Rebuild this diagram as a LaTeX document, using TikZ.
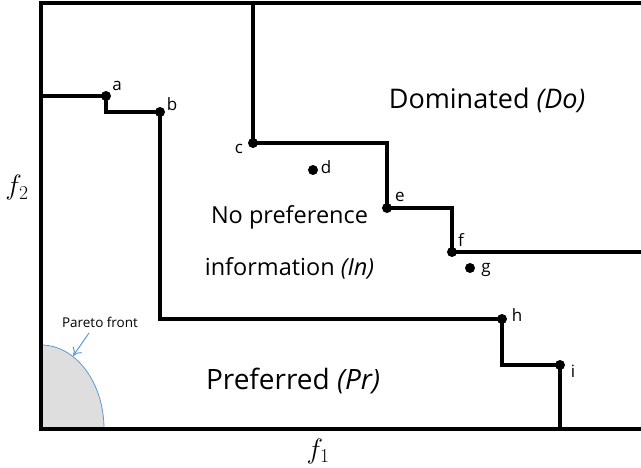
\RequirePackage{fix-cm}
\documentclass[tikz,border=0pt]{standalone}
\usepackage{fontspec}
\setmainfont{Open Sans}
\usetikzlibrary{arrows.meta}
\definecolor{frontblue}{HTML}{5B9BD5}
\definecolor{frontfill}{HTML}{DEDEDF}
\tikzset{
  stair/.style={line width=3.4pt, line join=miter, line cap=rect},
  pt/.style={circle, fill=black, inner sep=0pt, minimum size=10pt},
  ptlabel/.style={font=\fontsize{17}{19}\selectfont, inner sep=0pt},
  region/.style={font=\fontsize{27}{30}\selectfont, inner sep=0pt},
  midregion/.style={font=\fontsize{23.5}{26}\selectfont, inner sep=0pt},
  axislabel/.style={font=\fontsize{28}{30}\selectfont, inner sep=0pt},
}
\begin{document}
\begin{tikzpicture}[x=1pt, y=-1pt]
\useasboundingbox (0,0) rectangle (641,468);

% Pareto front: shaded quarter ellipse at the origin
\fill[frontfill] (41,429) -- (41,345) arc[start angle=-90, end angle=0, x radius=63, y radius=84] -- cycle;
\draw[frontblue, line width=0.8pt] (41,345) arc[start angle=-90, end angle=0, x radius=63, y radius=84];

% frame corners
\coordinate (TL) at (41,3);
\coordinate (TR) at (641,3);
\coordinate (BL) at (41,429);
\coordinate (BR) at (641,429);
\draw[stair] (TR) -- (TL) -- (BL) -- (BR);

% points
\node[pt] (a) at (106,96) {};
\node[pt] (b) at (160,112) {};
\node[pt] (c) at (253,143) {};
\node[pt] (d) at (313,170) {};
\node[pt] (e) at (387,208) {};
\node[pt] (f) at (452,252) {};
\node[pt] (g) at (470,268) {};
\node[pt] (h) at (502,319) {};
\node[pt] (i) at (560,365) {};

% stair corners and free ends
\coordinate (aL) at (41,96);
\coordinate (ab) at (106,112);
\coordinate (bh) at (160,319);
\coordinate (hi) at (502,365);
\coordinate (iB) at (560,429);
\coordinate (cT) at (253,3);
\coordinate (ce) at (387,143);
\coordinate (ef) at (452,208);
\coordinate (fR) at (641,252);

% lower stair (preferred boundary)
\draw[stair] (aL) -- (a.center) -- (ab) -- (b.center) -- (bh) -- (h.center) -- (hi) -- (i.center) -- (iB);
% upper stair (dominated boundary)
\draw[stair] (cT) -- (c.center) -- (ce) -- (e.center) -- (ef) -- (f.center) -- (fR);

% point labels
\node[ptlabel] (la) at (117,86) {a};
\node[ptlabel] (lb) at (172,104) {b};
\node[ptlabel] (lc) at (239,149) {c};
\node[ptlabel] (ld) at (326,167) {d};
\node[ptlabel] (le) at (400,197) {e};
\node[ptlabel] (lf) at (461,240) {f};
\node[ptlabel] (lg) at (486,270) {g};
\node[ptlabel] (lh) at (517,315) {h};
\node[ptlabel] (li) at (573,371) {i};

% region labels
\node[region] (do) at (487,100) {Dominated \textit{(Do)}};
\node[midregion] (np) at (289.5,217) {No preference};
\node[midregion] (in) at (289.5,268) {information \textit{(In)}};
\node[region, font=\fontsize{28}{30}\selectfont] (pr) at (293,381) {Preferred \textit{(Pr)}};

% Pareto front callout
\node[font=\fontsize{13.5}{15}\selectfont, inner sep=0pt] (pf) at (100,322) {Pareto front};
\coordinate (pfs) at (89,333);
\coordinate (pfc) at (73,356);
\draw[frontblue, line width=1pt, -{To[length=8pt,width=11pt]}] (pfs) -- (pfc);

% axis labels
\node[axislabel] (f2) at (17,188) {$f_2$};
\node[axislabel] (f1) at (318,451) {$f_1$};
\end{tikzpicture}
\end{document}
